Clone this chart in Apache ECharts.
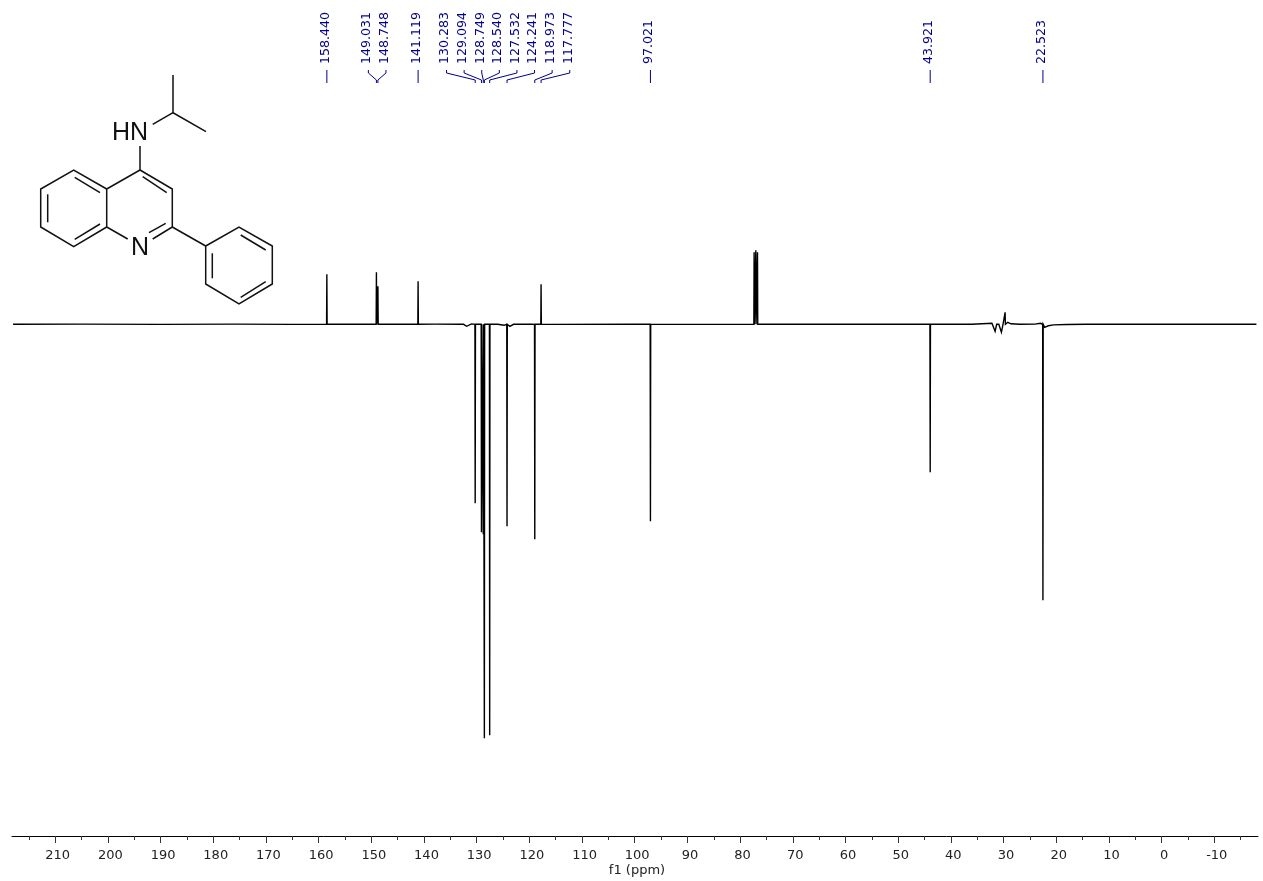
<!DOCTYPE html>
<html>
<head>
<meta charset="utf-8">
<style>html,body{margin:0;padding:0;background:#fff}#main{width:1263px;height:881px}</style>
<script src="https://cdn.jsdelivr.net/npm/echarts@6/dist/echarts.min.js"></script>
</head>
<body>
<div id="main"></div>
<script>
// ppm range of the plot
var axisLeftPpm = 218.2
var axisRightPpm = -18.3
var majorTicks = [210,200,190,180,170,160,150,140,130,120,110,100,90,80,70,60,50,40,30,20,10,0,-10]
var minorTicks = [215,205,195,185,175,165,155,145,135,125,115,105,95,85,75,65,55,45,35,25,15,5,-5,-15]

// labelled peaks, the groups share one fan of leader lines
var labelGroups = [
	['158.440'],
	['149.031','148.748'],
	['141.119'],
	['130.283','129.094','128.749','128.540','127.532','124.241','118.973','117.777'],
	['97.021'],
	['43.921'],
	['22.523']
]

// peaks, positive is up
var peakPpm = [158.44,149.031,148.748,141.119,130.283,129.094,128.749,128.54,127.532,124.241,118.973,117.777,97.021,77.34,77.02,76.7,43.921,29.7,22.523]
var peakHeight = [50,52,38,43,-179,-208,-210,-414,-411,-202,-215,40,-197,72,74,72,-148,12,-276]

// baseline wiggle and the small features around the peaks
var baselinePpm = [218,205,190,176,165,154,138,133,132.5,132.4,131.9,131.8,131,130.8,126,124.8,123.7,123,119.6,116,100,85,75,60.2,60,59.8,46,36,32.2,31.9,31.6,31.3,30.9,30.4,30.1,29.9,29.2,28.6,27,24,23,22.8,22.2,21.5,20.5,18,14.35,14.3,14.1,14.05,0,-18]
var baselineInt = [0,0.2,-0.1,0.2,-0.1,0.1,0.2,0,0,-2,-2,0,0.4,-0.6,0,-1,-2,0,0.2,-0.1,0.1,-0.1,0,0,1,0,0.1,0.1,1,0,-7,0,0,-8,0,1,2,0.5,0,0.2,1,2,-3,-1.5,-0.6,-0.2,0,-2,-2,0,0.1,0]

var labelColor = '#00008b'
var fontName = '"DejaVu Sans", Verdana, sans-serif'

// merge baseline and peaks, each peak is a narrow spike on the baseline
var spectrum = []
for(var i = 0; i < baselinePpm.length; i++){
	spectrum.push([baselinePpm[i],baselineInt[i]])
}
for(var j = 0; j < peakPpm.length; j++){
	spectrum.push([peakPpm[j]+0.05,0])
	spectrum.push([peakPpm[j],peakHeight[j]])
	spectrum.push([peakPpm[j]-0.05,0])
}
spectrum.sort(function(a,b){return b[0]-a[0]})

var labelData = []
labelGroups.forEach(function(group,g){
	group.forEach(function(text,k){
		labelData.push([parseFloat(text),0,g,k])
	})
})

function renderLabel(params,api){
	var group = labelGroups[api.value(2)]
	var k = api.value(3)
	var peakX = api.coord([api.value(0),0])[0]
	var first = api.coord([parseFloat(group[0]),0])[0]
	var last = api.coord([parseFloat(group[group.length-1]),0])[0]
	var labelX = (first+last)/2+(k-(group.length-1)/2)*17.6
	var pts = group.length==1
		? [[peakX,70],[peakX,83]]
		: [[labelX,70],[labelX,73],[peakX,80],[peakX,83]]
	return {
		type:'group',
		children:[
			{type:'polyline',shape:{points:pts},style:{stroke:labelColor,fill:null,lineWidth:1}},
			{type:'text',x:labelX-1.5,y:64,rotation:Math.PI/2,style:{text:group[k],font:'12.6px '+fontName,fill:labelColor,align:'left',verticalAlign:'middle'}}
		]
	}
}

// the structure drawn top left
var bonds = [
	[[173,75],[173,112.7],[206,131.7]],[[173,112.7],[152.7,124.3]],[[140,146],[140,170]],
	[[140,170],[172.3,189],[172.3,227],[152.7,239]],[[127.7,239],[106.7,227],[106.7,189],[140,170]],
	[[106.7,189],[73.7,170],[40.7,189],[40.7,227],[73.7,246.7],[106.7,227]],
	[[142.7,176.7],[166.7,192.7]],[[74.7,177.3],[100,192.7]],[[47.7,194.3],[47.7,222.3]],[[74.7,239.3],[100,224]],[[165.7,223.3],[149,232.7]],
	[[172.3,227],[205.7,246]],[[205.7,246],[239,227],[272.3,246],[272.3,284],[239,304],[205.7,284],[205.7,246]],
	[[212.3,253.3],[212.3,278.3]],[[240.7,235],[265.7,250]],[[240.7,297.3],[265.7,281.7]]
]
var structure = bonds.map(function(b){
	return {type:'polyline',shape:{points:b},style:{stroke:'#111',fill:null,lineWidth:1.5}}
})
structure.push({type:'text',x:112,y:133,style:{text:'HN',font:'25px "Liberation Sans", Arial, sans-serif',fill:'#111',verticalAlign:'middle'}})
structure.push({type:'text',x:131,y:248,style:{text:'N',font:'25px "Liberation Sans", Arial, sans-serif',fill:'#111',verticalAlign:'middle'}})

var myChart = echarts.init(document.getElementById('main'))
var option = {
	animation:false,
	backgroundColor:'#fff',
	grid:{left:12,right:5,top:0,bottom:45,outerBoundsMode:'none'},
	graphic:structure,
	xAxis:[
		{
			type:'value',
			inverse:true,
			min:axisRightPpm,
			max:axisLeftPpm,
			name:'f1 (ppm)',
			nameLocation:'middle',
			nameGap:28,
			nameMoveOverlap:false,
			nameTextStyle:{color:'#222',fontFamily:fontName,fontSize:13,padding:[0,0,0,4]},
			splitLine:{show:false},
			axisLine:{show:true,onZero:false,lineStyle:{color:'#000',width:1}},
			axisTick:{show:true,length:7,customValues:majorTicks,lineStyle:{color:'#333'}},
			axisLabel:{show:true,margin:13,customValues:majorTicks,color:'#222',fontFamily:fontName,fontSize:13,padding:[0,0,0,5]}
		},
		{
			type:'value',
			inverse:true,
			min:axisRightPpm,
			max:axisLeftPpm,
			position:'bottom',
			splitLine:{show:false},
			axisLine:{show:false,onZero:false},
			axisTick:{show:true,length:4,customValues:minorTicks,lineStyle:{color:'#333'}},
			axisLabel:{show:false}
		}
	],
	yAxis:{type:'value',show:false,min:-511.7,max:324.3,splitLine:{show:false}},
	series:[
		{
			type:'line',
			data:spectrum,
			showSymbol:false,
			smooth:false,
			silent:true,
			lineStyle:{color:'#000',width:1.4,join:'miter'},
			clip:true
		},
		{
			type:'custom',
			data:labelData,
			renderItem:renderLabel,
			silent:true,
			clip:false
		}
	]
}
myChart.setOption(option)
</script>
</body>
</html>
